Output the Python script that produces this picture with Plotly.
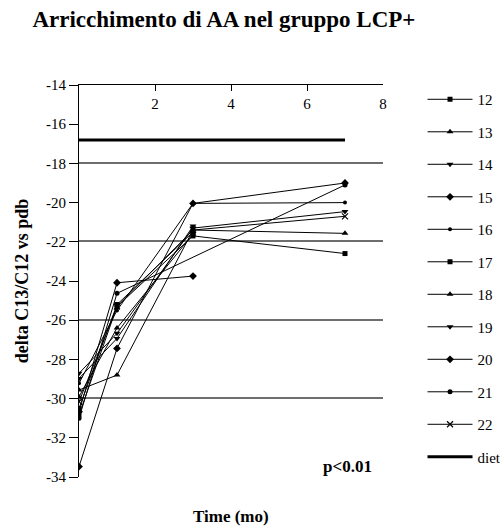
import plotly.graph_objects as go

# Sampling times (months)
times = [0, 1, 3, 7]

# delta C13/C12 vs PDB per subject (None = not sampled)
subjects = ["12", "13", "14", "15", "16", "17", "18", "19", "20", "21", "22"]
s12 = [-30.84, -25.30, -21.70, -22.60]
s13 = [-29.56, -28.80, -21.40, -21.57]
s14 = [-28.71, -26.67, -21.30, -20.46]
s15 = [-33.47, -27.44, -20.04, -19.00]
s16 = [-29.22, -25.50, -20.04, -20.00]
s17 = [-30.50, -25.20, -21.50, None]
s18 = [-29.90, -26.40, -21.60, None]
s19 = [-28.97, -26.93, -21.20, None]
s20 = [-30.67, -24.09, -23.75, None]
s21 = [-31.00, -24.63, None, -19.10]
s22 = [-30.16, -25.30, -21.40, -20.70]
series = [s12, s13, s14, s15, s16, s17, s18, s19, s20, s21, s22]

# Dietary reference level
diet_times = [0, 7]
diet_value = [-16.8, -16.8]

# Axis ticks and horizontal reference lines
x_ticks = [2, 4, 6, 8]
y_ticks = [-14, -16, -18, -20, -22, -24, -26, -28, -30, -32, -34]
y_tick_labels = ["-14", "-16", "-18", "-20", "-22", "-24", "-26", "-28",
                 "-30", "-32", "-34"]
grid_levels = [-18, -22, -26, -30, -34]

symbols = {
    "12": ("square", 5), "13": ("triangle-up", 6), "14": ("triangle-down", 6),
    "15": ("diamond", 6), "16": ("circle", 4), "17": ("square", 5),
    "18": ("triangle-up", 6), "19": ("triangle-down", 6), "20": ("diamond", 6),
    "21": ("circle", 5), "22": ("x-thin", 6),
}

SERIF = "Liberation Serif, Times New Roman, serif"

fig = go.Figure()

for name, vals in zip(subjects, series):
    sym, size = symbols[name]
    fig.add_trace(go.Scatter(
        x=times, y=vals, name=name, mode="lines+markers",
        connectgaps=True, legendgroup=name,
        line=dict(color="black", width=1),
        marker=dict(symbol=sym, size=size, color="black",
                    line=dict(color="black", width=1.2 if sym == "x-thin" else 0)),
    ))

fig.add_trace(go.Scatter(
    x=diet_times, y=diet_value, name="diet", mode="lines", legendgroup="diet",
    line=dict(color="black", width=3),
))

# invisible trace on the overlay axis that carries the reference grid
fig.add_trace(go.Scatter(x=[0], y=[-20], yaxis="y2", showlegend=False,
                         mode="markers", marker=dict(opacity=0), hoverinfo="skip"))

fig.add_annotation(x=7.75, y=-33.45, xref="x", yref="y", text="<b>p&lt;0.01</b>",
                   showarrow=False, xanchor="right", yanchor="middle",
                   font=dict(family=SERIF, size=17, color="black"))

fig.update_layout(
    width=501, height=532,
    margin=dict(l=79, r=118, t=85, b=55, autoexpand=False),
    paper_bgcolor="white", plot_bgcolor="white",
    title=dict(text="<b>Arricchimento di AA nel gruppo LCP+</b>",
               x=0.447, xanchor="center", y=0.964, yanchor="middle",
               font=dict(family=SERIF, size=23, color="black")),
    font=dict(family=SERIF, size=15, color="black"),
    xaxis=dict(range=[0, 8], side="top", tickvals=x_ticks, ticks="inside",
               ticklen=6, tickcolor="black", ticklabelposition="outside",
               ticklabelstandoff=-31,
               showline=True, linecolor="black", linewidth=1.2,
               showgrid=False, zeroline=False,
               tickfont=dict(family=SERIF, size=15)),
    yaxis=dict(range=[-34, -14], tickvals=y_ticks, ticktext=y_tick_labels,
               ticks="outside",
               ticklen=9, tickcolor="black", showline=True, linecolor="black",
               linewidth=1.2, showgrid=False, zeroline=False,
               tickfont=dict(family=SERIF, size=15),
               title=dict(text="<b>delta C13/C12 vs pdb</b>", standoff=12,
                          font=dict(family=SERIF, size=18))),
    yaxis2=dict(range=[-34.05, -14], overlaying="y", tickvals=grid_levels,
                showticklabels=False, ticks="", showgrid=True,
                gridcolor="#6e6e6e", gridwidth=1.5, zeroline=False,
                showline=False),
    legend=dict(x=1.13, xanchor="left", y=1.005, yanchor="top",
                font=dict(family=SERIF, size=15), tracegroupgap=10,
                itemwidth=45, maxheight=520, bgcolor="rgba(0,0,0,0)"),
    showlegend=True,
)

fig.add_annotation(x=0.5, y=-0.102, xref="paper", yref="paper",
                   text="<b>Time (mo)</b>", showarrow=False, yanchor="middle",
                   font=dict(family=SERIF, size=17, color="black"))

fig.write_html("out.html")
